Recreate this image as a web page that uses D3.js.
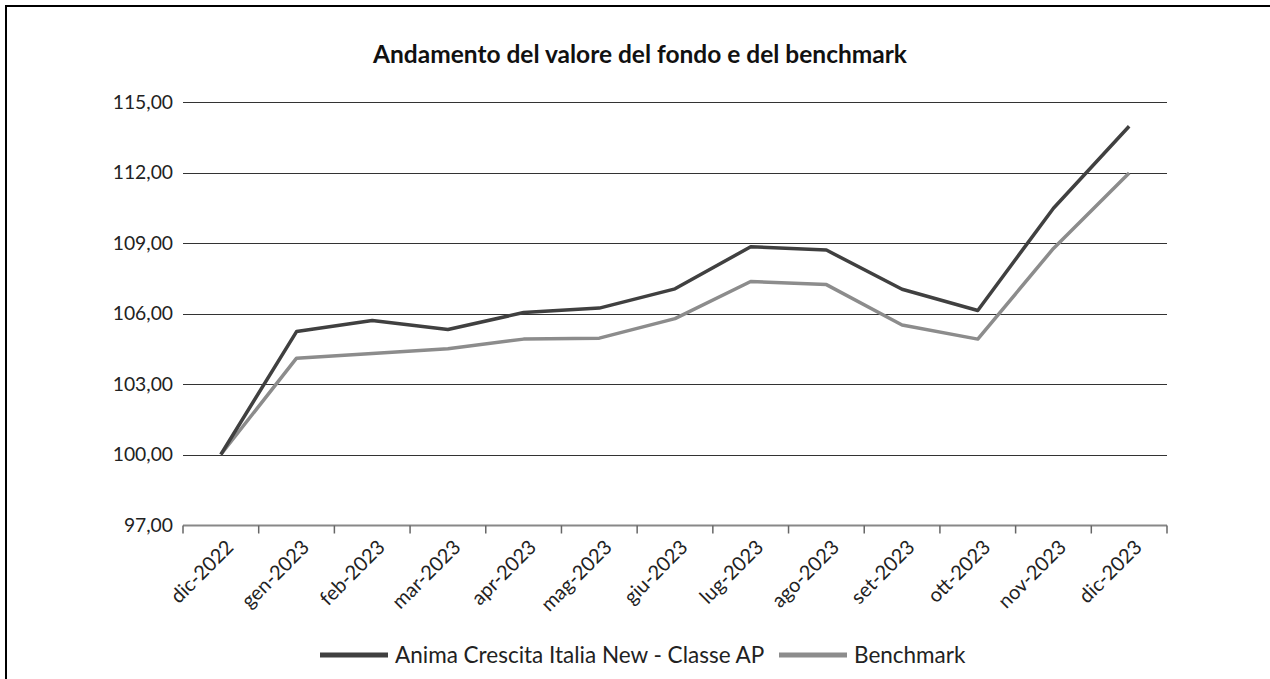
<!DOCTYPE html>
<html>
<head>
<meta charset="utf-8">
<script src="https://cdn.jsdelivr.net/npm/d3@7"></script>
<style>
  body { margin: 0; background: #fff; }
  svg { display: block; font-family: Lato, "Open Sans", sans-serif; }
</style>
</head>
<body>
<div id="chart"></div>
<script>
const months = ["dic-2022", "gen-2023", "feb-2023", "mar-2023", "apr-2023", "mag-2023", "giu-2023",
  "lug-2023", "ago-2023", "set-2023", "ott-2023", "nov-2023", "dic-2023"];
const fondo = [100.00, 105.23, 105.70, 105.32, 106.04, 106.23, 107.05, 108.84, 108.70, 107.03, 106.13, 110.48, 113.97];
const benchmark = [100.00, 104.10, 104.30, 104.50, 104.91, 104.95, 105.78, 107.36, 107.23, 105.51, 104.91, 108.77, 111.98];
const yTicks = [97, 100, 103, 106, 109, 112, 115];

const series = [
  { name: "Anima Crescita Italia New - Classe AP", values: fondo, color: "#404040" },
  { name: "Benchmark", values: benchmark, color: "#8c8c8c" }
];

const width = 1270, height = 679;
const margin = { top: 102, right: 103, bottom: 154, left: 183 };

const svg = d3.select("#chart").append("svg")
    .attr("width", width)
    .attr("height", height);

// frame (only top and left edges fall inside the window)
svg.append("rect")
    .attr("x", 6).attr("y", 6)
    .attr("width", width + 20).attr("height", height + 20)
    .attr("fill", "none")
    .attr("stroke", "#000")
    .attr("stroke-width", 2);

svg.append("text")
    .attr("x", 640).attr("y", 63)
    .attr("text-anchor", "middle")
    .attr("font-size", 24.5)
    .attr("font-weight", "bold")
    .attr("fill", "#111")
    .text("Andamento del valore del fondo e del benchmark");

const x = d3.scaleBand()
    .domain(months)
    .range([margin.left, width - margin.right]);

const y = d3.scaleLinear()
    .domain([97, 115])
    .range([height - margin.bottom, margin.top]);

const fmt = v => d3.format(".2f")(v).replace(".", ",");

// y labels
const yAxis = svg.append("g")
    .attr("transform", `translate(${margin.left},0)`)
    .call(d3.axisLeft(y).tickValues(yTicks).tickSize(0).tickPadding(10).tickFormat(fmt))
    .call(g => g.select(".domain").remove());
yAxis.selectAll("text")
    .attr("font-size", 19.3)
    .attr("fill", "#222")
    .attr("font-family", "Lato, sans-serif");

// gridlines
svg.append("g")
  .selectAll("line")
  .data(yTicks.filter(d => d > 97))
  .join("line")
    .attr("x1", margin.left)
    .attr("x2", width - margin.right)
    .attr("y1", d => Math.round(y(d)) + 0.5)
    .attr("y2", d => Math.round(y(d)) + 0.5)
    .attr("stroke", "#333")
    .attr("stroke-width", 1);

// x axis with boundary ticks
const xg = svg.append("g")
    .attr("transform", `translate(0,${Math.round(y(97)) + 0.5})`);
xg.append("line")
    .attr("x1", margin.left).attr("x2", width - margin.right)
    .attr("stroke", "#888").attr("stroke-width", 2);
const bounds = months.map(m => x(m)).concat([width - margin.right]);
xg.selectAll(".tk")
  .data(bounds)
  .join("line")
    .attr("class", "tk")
    .attr("x1", d => d).attr("x2", d => d)
    .attr("y1", 0).attr("y2", 8)
    .attr("stroke", "#666").attr("stroke-width", 1.5);
xg.selectAll(".lbl")
  .data(months)
  .join("text")
    .attr("class", "lbl")
    .attr("transform", d => `translate(${x(d) + x.bandwidth() / 2 + 9},${18}) rotate(-45)`)
    .attr("text-anchor", "end")
    .attr("dy", "0.35em")
    .attr("font-size", 20)
    .attr("fill", "#222")
    .text(d => d);

const line = d3.line()
    .x((d, i) => x(months[i]) + x.bandwidth() / 2)
    .y(d => y(d));

svg.append("g")
  .selectAll("path")
  .data(series.slice().reverse())
  .join("path")
    .attr("d", d => line(d.values))
    .attr("fill", "none")
    .attr("stroke", d => d.color)
    .attr("stroke-width", 3.5)
    .attr("stroke-linejoin", "round");

// legend
const legend = svg.append("g").attr("transform", "translate(0,655)");
const legendX = [320, 779];
series.forEach((s, i) => {
  legend.append("line")
      .attr("x1", legendX[i]).attr("x2", legendX[i] + 68)
      .attr("stroke", s.color).attr("stroke-width", 5);
  legend.append("text")
      .attr("x", legendX[i] + 75)
      .attr("dy", "0.35em")
      .attr("font-size", 22.5)
      .attr("fill", "#222")
      .text(s.name);
});
</script>
</body>
</html>
